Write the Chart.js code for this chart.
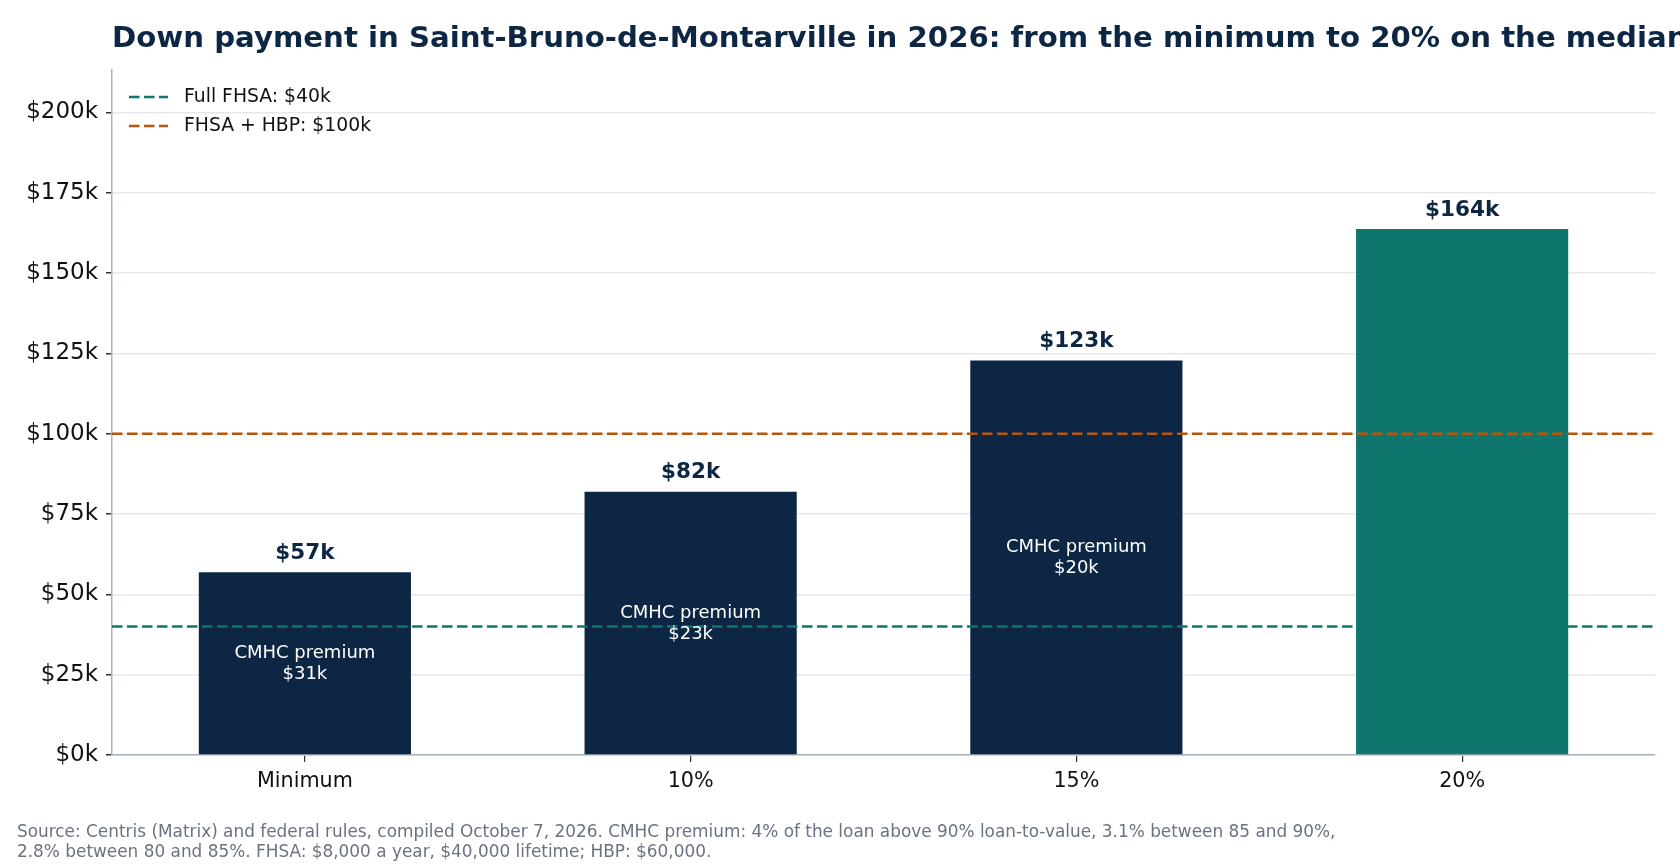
<!DOCTYPE html>
<html>
<head>
<meta charset="utf-8">
<script src="https://cdn.jsdelivr.net/npm/chart.js@4.4.1/dist/chart.umd.min.js"></script>
<style>
  body { margin: 0; background: #fff; }
  canvas { display: block; }
</style>
</head>
<body>
<canvas id="chart1" width="1680" height="868"></canvas>
<script>
// data (thousands of dollars)
var categories = ['Minimum', '10%', '15%', '20%'];
var downPayment = [56.9, 81.9, 122.8, 163.7];
var cmhcPremium = [30.5, 22.8, 19.5, null];
var yTicks = [0, 25, 50, 75, 100, 125, 150, 175, 200];
var refValues = [40, 100];
var refLabels = ['Full FHSA: $40k', 'FHSA + HBP: $100k'];

var NAVY = '#0c2644';
var TEAL = '#0f766e';
var ORANGE = '#b8560c';
var refColors = [TEAL, ORANGE];
var barColors = [NAVY, NAVY, NAVY, TEAL];

var titleText = 'Down payment in Saint-Bruno-de-Montarville in 2026: from the minimum to 20% on the median price';
var footerLines = [
    'Source: Centris (Matrix) and federal rules, compiled October 7, 2026. CMHC premium: 4% of the loan above 90% loan-to-value, 3.1% between 85 and 90%,',
    '2.8% between 80 and 85%. FHSA: $8,000 a year, $40,000 lifetime; HBP: $60,000.'
];

function k(v) { return '$' + Math.round(v) + 'k'; }

var FONT = '"DejaVu Sans", sans-serif';
var DASH = [10.5, 4.5];

var overlay = {
    id: 'overlay',
    afterDatasetsDraw: function (chart) {
        var c = chart.ctx, area = chart.chartArea;
        var ys = chart.scales.y;
        var meta = chart.getDatasetMeta(0);

        // reference lines
        c.save();
        c.lineWidth = 2.6;
        c.setLineDash(DASH);
        refValues.forEach(function (v, i) {
            var y = ys.getPixelForValue(v);
            c.strokeStyle = refColors[i];
            c.beginPath();
            c.moveTo(area.left, y);
            c.lineTo(area.right, y);
            c.stroke();
        });
        c.restore();

        // bar labels
        c.save();
        c.textAlign = 'center';
        c.textBaseline = 'middle';
        meta.data.forEach(function (bar, i) {
            c.fillStyle = NAVY;
            c.font = 'bold 21.5px ' + FONT;
            c.fillText(k(downPayment[i]), bar.x, bar.y - 19);
            if (cmhcPremium[i] != null) {
                var ym = ys.getPixelForValue(downPayment[i] / 2);
                c.fillStyle = '#ffffff';
                c.font = '18px ' + FONT;
                c.fillText('CMHC premium', bar.x, ym - 10.5);
                c.fillText(k(cmhcPremium[i]), bar.x, ym + 10.5);
            }
        });
        c.restore();

        // legend
        c.save();
        c.font = '18.8px ' + FONT;
        c.textBaseline = 'middle';
        c.lineWidth = 2.6;
        c.setLineDash(DASH);
        refLabels.forEach(function (lab, i) {
            var y = area.top + 27 + i * 29;
            c.strokeStyle = refColors[i];
            c.beginPath();
            c.moveTo(area.left + 17, y);
            c.lineTo(area.left + 56, y);
            c.stroke();
            c.fillStyle = '#111';
            c.fillText(lab, area.left + 72, y);
        });
        c.restore();
    },
    afterDraw: function (chart) {
        var c = chart.ctx;
        c.save();
        c.textBaseline = 'middle';
        c.fillStyle = NAVY;
        c.font = 'bold 29.2px ' + FONT;
        c.fillText(titleText, 112, 39);
        c.fillStyle = '#6b7280';
        c.font = '16.9px ' + FONT;
        c.fillText(footerLines[0], 17, 833);
        c.fillText(footerLines[1], 17, 853);
        c.restore();
    }
};

var ctx1 = document.getElementById('chart1').getContext('2d');
var chart1 = new Chart(ctx1, {
    type: 'bar',
    data: {
        labels: categories,
        datasets: [{
            data: downPayment,
            backgroundColor: barColors,
            borderWidth: 0,
            barPercentage: 0.55,
            categoryPercentage: 1
        }]
    },
    options: {
        responsive: false,
        animation: false,
        layout: { padding: { top: 70, right: 25, bottom: 0, left: 0 } },
        plugins: {
            legend: { display: false },
            tooltip: { enabled: false }
        },
        scales: {
            x: {
                offset: true,
                grid: { offset: false, drawOnChartArea: false, tickLength: 7, tickColor: '#333', lineWidth: 1.2 },
                border: { color: '#a8b1bd', width: 1.5 },
                ticks: { font: { family: FONT, size: 20.7 }, color: '#111', padding: 7 },
                afterFit: function (s) { s.height = 113; }
            },
            y: {
                min: 0,
                max: 213.2,
                afterBuildTicks: function (s) { s.ticks = yTicks.map(function (v) { return { value: v }; }); },
                grid: { color: '#e5e7eb', lineWidth: 1.5, tickLength: 6, tickColor: '#333' },
                border: { color: '#a8b1bd', width: 1.5 },
                ticks: {
                    font: { family: FONT, size: 23 }, color: '#111', padding: 8,
                    callback: function (v) { return '$' + v + 'k'; }
                },
                afterFit: function (s) { s.width = 112; }
            }
        }
    },
    plugins: [overlay]
});
</script>
</body>
</html>
